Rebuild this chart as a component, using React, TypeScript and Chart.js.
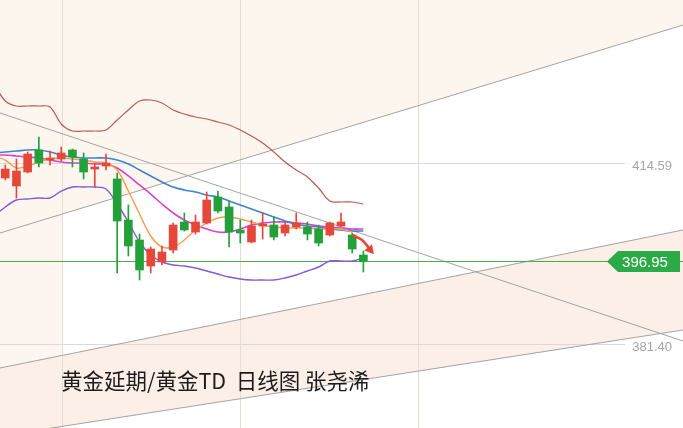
import React, { useEffect, useRef } from "react";
import { Chart, registerables } from "chart.js";
Chart.register(...registerables);

// ---- scale bounds (price units / candle index units) ----
const X_MIN = -0.47;
const X_MAX = 60.56;
const Y_MIN = 366.4;
const Y_MAX = 444.93;

// ---- candles (index 0..32) ----
const candleIndex = Array.from({ length: 33 }, (_, i) => i);
const opens = [412.27, 410.8, 413.37, 417.41, 415.57, 415.76, 417.41, 415.76, 413.92, 414.47, 412.09, 404.56, 400.89, 396.12, 396.86, 399.06, 404.2, 402.36, 404.01, 408.78, 406.95, 402.73, 400.53, 403.46, 403.65, 402.18, 403.28, 403.28, 402.91, 401.81, 403.46, 401.81, 398.14];
const highs = [414.65, 415.76, 417.04, 419.79, 417.22, 417.96, 417.59, 416.86, 415.02, 416.67, 413.19, 407.32, 401.99, 399.61, 399.79, 404.01, 405.85, 405.48, 409.7, 409.88, 408.05, 404.56, 404.56, 405.85, 405.11, 404.2, 405.85, 404.2, 403.65, 404.2, 405.85, 402.18, 398.87];
const lows = [411.9, 408.6, 413.19, 414.29, 414.65, 415.39, 414.29, 412.09, 410.62, 413.74, 394.84, 397.96, 393.55, 394.84, 396.31, 398.51, 402.54, 401.99, 403.83, 405.85, 399.61, 400.34, 400.34, 401.08, 400.89, 401.63, 402.91, 400.89, 399.79, 401.63, 403.28, 398.51, 395.02];
const closes = [413.92, 413.55, 416.67, 415.02, 415.94, 416.86, 416.12, 413.37, 414.29, 415.02, 404.38, 399.79, 395.39, 399.24, 398.69, 403.65, 402.73, 404.2, 408.23, 406.21, 402.36, 402.18, 403.46, 403.83, 401.44, 403.65, 404.01, 401.99, 400.34, 404.01, 404.2, 399.24, 396.95];

// ---- indicator lines (index -1..32) ----
const lineIndex = Array.from({ length: 34 }, (_, i) => i - 1);
const upperBand = [429.52, 426.4, 425.48, 425.48, 425.48, 425.3, 422.18, 420.89, 420.89, 420.89, 421.08, 422.91, 424.75, 426.4, 426.58, 426.03, 424.75, 424.01, 423.46, 423.1, 422.54, 421.99, 421.08, 419.98, 418.69, 417.04, 415.21, 413.74, 412.45, 410.43, 408.05, 407.87, 407.87, 407.5];
const lowerBand = [405.3, 406.95, 408.23, 408.42, 408.6, 408.6, 409.88, 410.62, 410.62, 410.62, 410.25, 407.5, 404.2, 400.53, 398.14, 396.86, 396.31, 396.12, 395.76, 395.21, 394.65, 394.1, 393.74, 393.55, 393.55, 393.55, 393.92, 394.47, 395.21, 395.94, 397.04, 397.04, 397.04, 397.59];
const blueMA = [416.86, 417.04, 417.22, 417.41, 417.41, 417.04, 416.49, 416.12, 415.94, 415.94, 415.94, 415.57, 414.84, 413.74, 412.64, 411.54, 410.62, 410.07, 409.7, 409.15, 408.78, 408.05, 407.32, 406.58, 405.85, 405.11, 404.38, 403.83, 403.46, 403.28, 402.91, 402.73, 402.54, 402.54];
const magentaMA = [416.49, 416.49, 416.31, 416.12, 415.94, 415.57, 415.21, 415.02, 415.02, 414.84, 414.84, 414.1, 412.64, 410.99, 409.33, 407.5, 405.85, 404.56, 403.65, 402.91, 402.36, 402.36, 402.91, 403.65, 404.01, 404.2, 404.2, 404.01, 403.83, 403.46, 403.28, 403.1, 402.91, 402.91];
const orangeMA = [416.31, 415.57, 414.1, 414.47, 415.21, 415.76, 415.94, 415.76, 415.57, 415.21, 415.02, 413.74, 409.88, 405.66, 401.63, 399.61, 399.61, 400.89, 402.73, 404.01, 404.93, 405.11, 404.75, 404.2, 403.65, 403.28, 403.1, 403.1, 403.1, 402.91, 402.91, 402.91, 402.36, null];

// ---- trend lines: [startValue, endValue] at X_MIN / X_MAX ----
const trendUpper = [402.18, 440.34];
const trendDown = [424.2, 382.36];
const trendMid = [377.41, 402.73];
const trendLow = [364.93, 384.38];

// ---- forecast arrow ----
const arrowIndex = [30.98, 31.88, 32.77];
const arrowValues = [401.81, 400.89, 398.69];

// ---- reference levels and labels ----
const lastPrice = 396.95;
const levelLabels = [414.59, 381.4];
const gridIndex = [5.07, 20.97, 36.88];
const titleText = "黄金延期/黄金TD  日线图 张尧浠";

const RED = "#e5483b";
const GREEN = "#24a03a";

export default function App() {
  const ref = useRef<HTMLCanvasElement>(null);
  useEffect(() => {
    document.body.style.margin = "0";
    const canvas = ref.current!;
    const isUp = (k: number) => closes[k] >= opens[k];
    const candleColors = candleIndex.map((_, k) => (isUp(k) ? RED : GREEN));
    const seg = (vals: number[]) => [
      { x: X_MIN, y: vals[0] },
      { x: X_MAX, y: vals[1] },
    ];
    const lineDs = (vals: (number | null)[], color: string, order: number, width = 1.3) => ({
      type: "line" as const,
      data: lineIndex.map((x, k) => ({ x, y: vals[k] })),
      borderColor: color,
      borderWidth: width,
      pointRadius: 0,
      tension: 0.35,
      order,
    });
    const trendDs = (vals: number[]) => ({
      type: "line" as const,
      data: seg(vals),
      borderColor: "#a3a3a3",
      borderWidth: 1,
      pointRadius: 0,
      order: 10,
    });

    const bgPlugin = {
      id: "bg",
      beforeDatasetsDraw(chart: any) {
        const { ctx, scales } = chart;
        const xs = scales.x, ys = scales.y;
        const L = xs.getPixelForValue(X_MIN), R = xs.getPixelForValue(X_MAX);
        const T = ys.getPixelForValue(Y_MAX), B = ys.getPixelForValue(Y_MIN);
        ctx.save();
        ctx.fillStyle = "#ffffff";
        ctx.fillRect(L, T, R - L, B - T);
        // left strip
        ctx.fillStyle = "#fcf5f0";
        ctx.fillRect(L, T, xs.getPixelForValue(gridIndex[0]) - L, B - T);
        // cream above upper rising line
        ctx.fillStyle = "#fdf6ee";
        ctx.beginPath();
        ctx.moveTo(L, T);
        ctx.lineTo(L, ys.getPixelForValue(trendUpper[0]));
        ctx.lineTo(R, ys.getPixelForValue(trendUpper[1]));
        ctx.lineTo(R, T);
        ctx.closePath();
        ctx.fill();
        // pink channel
        ctx.fillStyle = "#fcefe8";
        ctx.beginPath();
        ctx.moveTo(L, ys.getPixelForValue(trendMid[0]));
        ctx.lineTo(R, ys.getPixelForValue(trendMid[1]));
        ctx.lineTo(R, ys.getPixelForValue(trendLow[1]));
        ctx.lineTo(L, ys.getPixelForValue(trendLow[0]));
        ctx.closePath();
        ctx.fill();
        // grid
        ctx.strokeStyle = "#e3ddd8";
        ctx.lineWidth = 1;
        gridIndex.forEach((g) => {
          const x = Math.round(xs.getPixelForValue(g)) + 0.5;
          ctx.beginPath();
          ctx.moveTo(x, T);
          ctx.lineTo(x, B);
          ctx.stroke();
        });
        ctx.strokeStyle = "#d9d9d9";
        levelLabels.forEach((v) => {
          const y = Math.round(ys.getPixelForValue(v)) - 1.5;
          ctx.beginPath();
          ctx.moveTo(L, y);
          ctx.lineTo(R - 58, y);
          ctx.stroke();
        });
        ctx.restore();
      },
    };

    const overlayPlugin = {
      id: "overlay",
      afterDatasetsDraw(chart: any) {
        const { ctx, scales } = chart;
        const xs = scales.x, ys = scales.y;
        ctx.save();
        // arrow head
        const n = arrowIndex.length;
        const x1 = xs.getPixelForValue(arrowIndex[n - 2]);
        const y1 = ys.getPixelForValue(arrowValues[n - 2]);
        const x2 = xs.getPixelForValue(arrowIndex[n - 1]);
        const y2 = ys.getPixelForValue(arrowValues[n - 1]);
        const a = Math.atan2(y2 - y1, x2 - x1);
        const hl = 9, hw = 5;
        const tx = x2 + Math.cos(a) * 3, ty = y2 + Math.sin(a) * 3;
        ctx.fillStyle = "#e8453a";
        ctx.beginPath();
        ctx.moveTo(tx, ty);
        ctx.lineTo(tx - Math.cos(a) * hl - Math.sin(a) * hw, ty - Math.sin(a) * hl + Math.cos(a) * hw);
        ctx.lineTo(tx - Math.cos(a) * hl + Math.sin(a) * hw, ty - Math.sin(a) * hl - Math.cos(a) * hw);
        ctx.closePath();
        ctx.fill();

        // level labels
        ctx.font = "13px 'Liberation Sans', Arial, sans-serif";
        ctx.fillStyle = "#a5a5a5";
        ctx.textAlign = "right";
        ctx.textBaseline = "middle";
        levelLabels.forEach((v) => {
          ctx.fillText(v.toFixed(2), 672, ys.getPixelForValue(v) + 1);
        });

        // last price tag
        const py = ys.getPixelForValue(lastPrice);
        ctx.fillStyle = "#2bab47";
        ctx.beginPath();
        ctx.moveTo(607, py);
        ctx.lineTo(618, py - 10.5);
        ctx.lineTo(680, py - 10.5);
        ctx.lineTo(680, py + 10.5);
        ctx.lineTo(618, py + 10.5);
        ctx.closePath();
        ctx.fill();
        ctx.fillStyle = "#ffffff";
        ctx.font = "15px 'Liberation Sans', Arial, sans-serif";
        ctx.textAlign = "center";
        ctx.fillText(lastPrice.toFixed(2), 645, py + 1);

        // title
        ctx.fillStyle = "#1c1c1c";
        ctx.font = "21.5px 'Noto Sans CJK SC', sans-serif";
        ctx.textAlign = "left";
        ctx.textBaseline = "middle";
        ctx.fillText(titleText, 61, 381);
        ctx.restore();
      },
    };

    const chart = new Chart(canvas, {
      type: "bar",
      data: {
        datasets: [
          trendDs(trendUpper),
          trendDs(trendDown),
          trendDs(trendMid),
          trendDs(trendLow),
          {
            type: "line",
            data: seg([lastPrice, lastPrice]),
            borderColor: "#45ad48",
            borderWidth: 1,
            pointRadius: 0,
            order: 9,
          },
          lineDs(upperBand, "#c0584e", 6, 1.2),
          lineDs(lowerBand, "#8757d6", 6, 1.4),
          lineDs(blueMA, "#3f82d2", 5, 1.6),
          lineDs(magentaMA, "#d840d0", 5, 1.6),
          lineDs(orangeMA, "#f0a04a", 4, 1.4),
          {
            type: "bar",
            data: candleIndex.map((x, k) => ({ x, y: [lows[k], highs[k]] })),
            backgroundColor: candleColors,
            barThickness: 1,
            grouped: false,
            order: 3,
          },
          {
            type: "bar",
            data: candleIndex.map((x, k) => ({ x, y: [opens[k], closes[k]] })),
            backgroundColor: candleColors,
            barThickness: 8,
            grouped: false,
            order: 2,
          },
          {
            type: "line",
            data: arrowIndex.map((x, k) => ({ x, y: arrowValues[k] })),
            borderColor: "#e8453a",
            borderWidth: 2.6,
            pointRadius: 0,
            tension: 0.3,
            order: 1,
          },
        ] as any,
      },
      options: {
        responsive: false,
        animation: false,
        devicePixelRatio: 1,
        layout: { padding: 0 },
        plugins: { legend: { display: false }, tooltip: { enabled: false }, title: { display: false } },
        scales: {
          x: { type: "linear", min: X_MIN, max: X_MAX, display: false, offset: false },
          y: { type: "linear", min: Y_MIN, max: Y_MAX, display: false },
        },
      },
      plugins: [bgPlugin, overlayPlugin],
    });
    return () => chart.destroy();
  }, []);
  return <canvas ref={ref} width={683} height={428} style={{ display: "block" }} />;
}
